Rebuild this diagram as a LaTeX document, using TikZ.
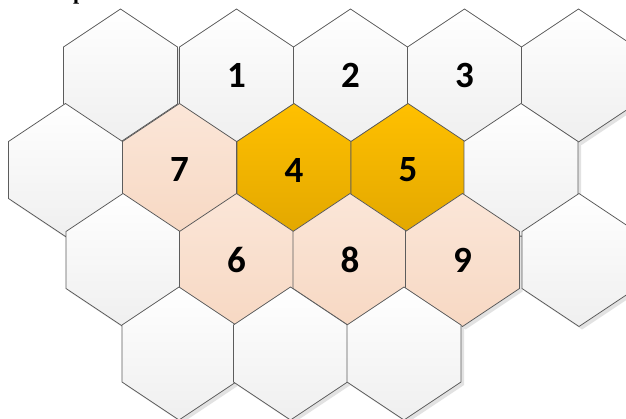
\documentclass[tikz,border=0pt]{standalone}
\usepackage{fontspec}
\setmainfont{Carlito}
\newfontfamily\serifp{Liberation Serif}
\definecolor{hexline}{HTML}{5C5C5C}
\definecolor{whitetop}{HTML}{FFFFFF}
\definecolor{whitebot}{HTML}{EFEFEF}
\definecolor{peachtop}{HTML}{FBE6D8}
\definecolor{peachbot}{HTML}{F7D8C3}
\definecolor{goldtop}{HTML}{FFC000}
\definecolor{goldbot}{HTML}{E2A700}
\definecolor{shadowc}{HTML}{E2E2E2}
\tikzset{
  hexbase/.style={draw=hexline, line width=0.8pt, line join=miter},
  hexw/.style={hexbase, top color=whitetop, bottom color=whitebot},
  hexp/.style={hexbase, top color=peachtop, bottom color=peachbot},
  hexg/.style={hexbase, top color=goldtop, bottom color=goldbot},
  hexsh/.style={fill=shadowc, draw=none},
  lbl/.style={font=\fontsize{37}{37}\selectfont\bfseries, inner sep=0pt, text=black}
}
% #1 x, #2 y : shadow
\newcommand\hexshade[2]{%
  \path[hexsh] (#1+3,#2-3) ++(0,66.5) -- ++(57,-38) -- ++(0,-57) -- ++(-57,-38) -- ++(-57,38) -- ++(0,57) -- cycle;}
% #1 name, #2 x, #3 y, #4 style, #5 label
\newcommand\hexcell[5]{%
  \path[#4] (#2,#3) ++(0,66.5) -- ++(57,-38) -- ++(0,-57) -- ++(-57,-38) -- ++(-57,38) -- ++(0,57) -- cycle;
  \node[lbl] (#1) at (#2,#3) {#5};}
\begin{document}
\begin{tikzpicture}[x=1pt,y=1pt]
\useasboundingbox (0,0) rectangle (626,-419);
\fill[white] (0,0) rectangle (626,-419);
% cut-off text at the top
\node[font=\serifp\fontsize{22}{22}\selectfont\bfseries, inner sep=0pt, anchor=base west] (ptext) at (73,0) {p};
% shadows
\hexshade{120.5}{-75.5}\hexshade{236.5}{-75.5}\hexshade{350.5}{-75.5}\hexshade{464.5}{-75.5}\hexshade{578.5}{-75.5}
\hexshade{65.5}{-170}\hexshade{179.5}{-170}\hexshade{294}{-170}\hexshade{408}{-170}\hexshade{521}{-170}
\hexshade{123}{-260}\hexshade{236.5}{-260}\hexshade{350}{-260}\hexshade{462.5}{-260}\hexshade{579}{-260}
\hexshade{179}{-353.5}\hexshade{290.5}{-353.5}\hexshade{404}{-353.5}
% row 1
\hexcell{a1}{120.5}{-75.5}{hexw}{}
\hexcell{h1}{236.5}{-75.5}{hexw}{1}
\hexcell{h2}{350.5}{-75.5}{hexw}{2}
\hexcell{h3}{464.5}{-75.5}{hexw}{3}
\hexcell{a2}{578.5}{-75.5}{hexw}{}
% row 2
\hexcell{b1}{65.5}{-170}{hexw}{}
\hexcell{h7}{179.5}{-170}{hexp}{7}
\hexcell{h4}{294}{-170}{hexg}{4}
\hexcell{h5}{408}{-170}{hexg}{5}
\hexcell{b2}{521}{-170}{hexw}{}
% row 3
\hexcell{c1}{123}{-260}{hexw}{}
\hexcell{h6}{236.5}{-260}{hexp}{6}
\hexcell{h8}{350}{-260}{hexp}{8}
\hexcell{h9}{462.5}{-260}{hexp}{9}
\hexcell{c2}{579}{-260}{hexw}{}
% row 4
\hexcell{d1}{179}{-353.5}{hexw}{}
\hexcell{d2}{290.5}{-353.5}{hexw}{}
\hexcell{d3}{404}{-353.5}{hexw}{}
\end{tikzpicture}
\end{document}
